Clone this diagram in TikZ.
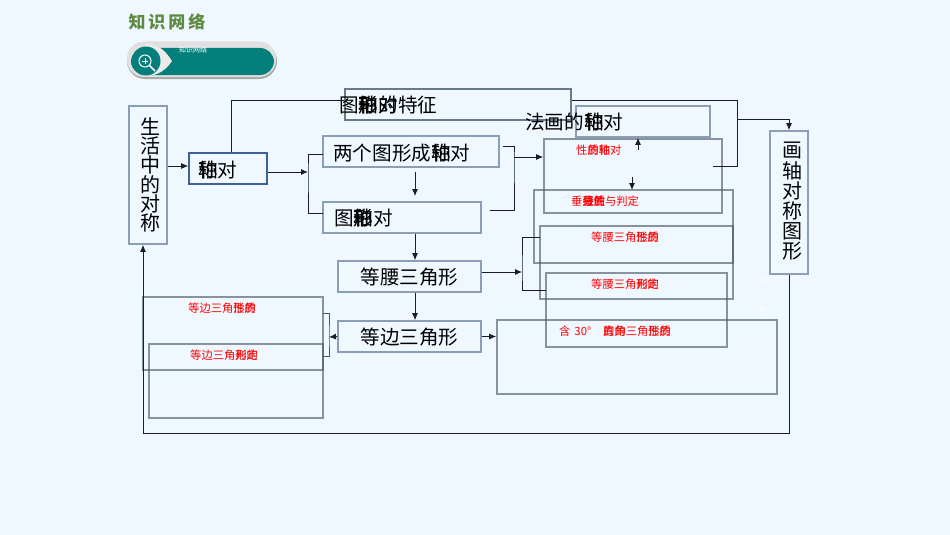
\documentclass[tikz,border=0pt]{standalone}
\usepackage{fontspec}
\setmainfont{Noto Sans CJK SC}
\usepackage{xcolor}
\usetikzlibrary{arrows.meta,calc,positioning}
\definecolor{pagebg}{HTML}{F0F8FF}
\definecolor{lightedge}{HTML}{8C9DB8}
\definecolor{darkedge}{HTML}{4A5664}
\definecolor{blueedge}{HTML}{3F6098}
\definecolor{tealfill}{HTML}{047F7C}
\definecolor{titlegreen}{HTML}{5F8A42}
\definecolor{linkcolor}{HTML}{1C1C2E}
\newcommand{\ov}[2]{\makebox[1em]{\makebox[0pt]{#1}\makebox[0pt]{#2}}}
\tikzset{
  lightbox/.style={draw=lightedge,line width=1.6pt,inner sep=0pt,font=\fontsize{19.6}{20}\selectfont},
  darkbox/.style={draw=darkedge,draw opacity=.62,line width=1.6pt,inner sep=0pt},
  bigtext/.style={inner sep=0pt,anchor=west,font=\fontsize{19.6}{20}\selectfont},
  redtext/.style={inner sep=0pt,anchor=west,text=red,font=\fontsize{11.3}{12}\selectfont},
  line/.style={color=linkcolor,line width=.9pt},
  arrow/.style={line,-{Latex[length=7pt,width=6pt]}}
}
\begin{document}
\begin{tikzpicture}[x=1pt,y=-1pt]
\useasboundingbox[fill=pagebg] (0,0) rectangle (950,535);
% banner
\node[inner sep=0pt,text=titlegreen,font=\fontsize{17}{20}\bfseries\selectfont] (title) at (167,21.5) {知\hspace{3pt}识\hspace{3pt}网\hspace{3pt}络};
\fill[black!35,rounded corners=18pt] (127,43) rectangle (277,79);
\fill[white!88!black,rounded corners=17pt] (127,41.5) rectangle (276,77);
\fill[tealfill,rounded corners=14pt] (131,48) rectangle (274,75);
\fill[white!92!black] (145,44) .. controls (160,44) and (166,52) .. (172,61) .. controls (166,70) and (158,76) .. (145,76) -- cycle;
\fill[tealfill] (146,61) circle (14.5);
\draw[white,line width=1pt] (145,61) circle (6);
\draw[white,line width=1.6pt] (149.5,65.5) -- (155,71);
\draw[white,line width=.8pt] (142,61) -- (148,61) (145,58) -- (145,64);
\node[inner sep=0pt,text=white,font=\fontsize{7}{7}\selectfont] (bannerT) at (193,50) {知识网络};
% left and right columns
\node[lightbox,minimum width=38,minimum height=138] (shengHuo) at (148,175) {};
\node[lightbox,minimum width=38,minimum height=143] (huaTu) at (789,202.5) {};
\node[inner sep=0pt,align=center,font=\fontsize{20}{19.2}\selectfont] (shengHuoT) at (150,175) {生\\活\\中\\的\\对\\称};
\node[inner sep=0pt,align=center,font=\fontsize{20}{20.2}\selectfont] (huaTuT) at (792,201.5) {画\\轴\\对\\称\\图\\形};
% main boxes
\node[draw=blueedge,line width=1.6pt,inner sep=0pt,minimum width=78,minimum height=31] (zhouDui) at (228,168.5) {};
\node[lightbox,draw=darkedge!50!lightedge,minimum width=226,minimum height=31] (teZheng) at (458,104.5) {};
\node[lightbox,minimum width=134,minimum height=31] (huaFa) at (643,121.5) {};
\node[lightbox,minimum width=176,minimum height=31] (liangGe) at (411,151.5) {};
\node[lightbox,minimum width=158,minimum height=31] (tuXing) at (402,217.5) {};
\node[lightbox,minimum width=143,minimum height=31] (dengYao) at (409.5,276.5) {\raisebox{-8pt}[0pt][0pt]{等腰三角形}};
\node[lightbox,minimum width=143,minimum height=31] (dengBian) at (409.5,336.5) {\raisebox{-8pt}[0pt][0pt]{等边三角形}};
% overlapping boxes
\node[darkbox,minimum width=178,minimum height=74] (xingZhi) at (633,176) {};
\node[darkbox,minimum width=199,minimum height=73] (chuiXian) at (633.5,226.5) {};
\node[darkbox,minimum width=193,minimum height=73] (dyXing) at (636.5,262.5) {};
\node[darkbox,minimum width=181,minimum height=74] (dyPan) at (636.5,310) {};
\node[darkbox,minimum width=280,minimum height=74] (hanSan) at (637,357) {};
\node[darkbox,minimum width=180,minimum height=73] (dbXing) at (233,333.5) {};
\node[darkbox,minimum width=174,minimum height=74] (dbPan) at (236,381) {};
% texts
\node[bigtext] (zhouDuiT) at (198,170) {\ov{轴}{称}对};
\node[bigtext] (teZhengT) at (339,105) {图\ov{形}{\ov{轴}{称}}\ov{的}{对}特征};
\node[bigtext] (huaFaT) at (525,122) {法画的\ov{轴}{称}对};
\node[bigtext] (liangGeT) at (333,153.5) {两个图形成\ov{轴}{称}对};
\node[bigtext] (tuXingT) at (334,218) {图\ov{形}{\ov{轴}{称}}对};
\node[redtext] (xingZhiT) at (576,150) {性\ov{的}{质}\ov{轴}{称}对};
\node[redtext] (chuiXianT) at (571,201) {垂\ov{直}{\ov{平}{\ov{分}{线}}}\ov{的}{\ov{性}{质}}与判定};
\node[redtext] (dyXingT) at (591,237) {等腰三角\ov{形}{性}\ov{的}{质}};
\node[redtext] (dyPanT) at (591,284) {等腰三角\ov{形}{判}\ov{的}{定}};
\node[redtext] (hanSanT) at (559,331) {含\hspace{4pt}30°\hspace{12pt}\ov{直}{的}\ov{角}{的}三角\ov{形}{性}\ov{的}{质}};
\node[redtext] (dbXingT) at (188,308) {等边三角\ov{形}{性}\ov{的}{质}};
\node[redtext] (dbPanT) at (190,355) {等边三角\ov{形}{判}\ov{的}{定}};
\node[inner sep=0pt,text=white,font=\fontsize{9}{9}\selectfont] (yingT) at (763,281) {应};
\node[inner sep=0pt,text=white,font=\fontsize{9}{9}\selectfont] (yongT) at (763,310) {用};
% junction points
\coordinate (zdBrace) at (308,172);
\coordinate (zdTop) at (323,154);
\coordinate (zdLow) at (323,213);
\coordinate (lgBrace) at (514,157);
\coordinate (lgTop) at (503,146);
\coordinate (dyBrace) at (522,272);
\coordinate (dbBrace) at (329,337);
\coordinate (dbTop) at (323,313);
\coordinate (dbLow) at (323,356);
\coordinate (topRight) at (737,100);
\coordinate (branchR) at (737,119);
\coordinate (lgStub) at (415,172);
\coordinate (tuStub) at (415,196);
\coordinate (upFrom) at (638,150);
\coordinate (downFrom) at (632,177);
\coordinate (downTo) at (632,190);
\coordinate (tuEnd) at (490,210);
\coordinate (xzEnd) at (713,166);
\coordinate (dyEndA) at (540,237);
\coordinate (dyEndB) at (546,290);
\coordinate (loopCorner) at (143,433);
% connectors
\path[arrow]
([yshift=9]shengHuo.east) edge ([yshift=2.5]zhouDui.west)
([yshift=-3.5]zhouDui.east) edge (zdBrace)
(lgBrace) edge ([yshift=19]xingZhi.west)
(lgStub) edge (tuStub)
(tuXing.south -| lgStub) edge (dengYao.north -| lgStub)
(dengYao.south -| lgStub) edge (dengBian.north -| lgStub)
(dengYao.east |- dyBrace) edge (dyBrace)
(dengBian.east) edge (hanSan.west |- dengBian.east)
(dengBian.west) edge (dbBrace)
(upFrom) edge (huaFa.south -| upFrom)
(downFrom) edge (downTo);
\draw[line] ([xshift=3]zhouDui.north) |- ([yshift=4.5]teZheng.west);
\draw[line] ([yshift=4.5]teZheng.east) -- (topRight) |- (xzEnd);
\draw[arrow] (branchR) -| (huaTu.north);
\draw[line] (zdTop) -| (zdBrace) |- (zdLow);
\draw[line] (lgTop) -| (lgBrace) |- (tuEnd);
\draw[line] (dyEndA) -| (dyBrace) |- (dyEndB);
\draw[line,draw=darkedge] (dbTop) -| (dbBrace) |- (dbLow);
\draw[arrow] (huaTu.south) |- (loopCorner) -- (loopCorner |- shengHuo.south);
\end{tikzpicture}
\end{document}
